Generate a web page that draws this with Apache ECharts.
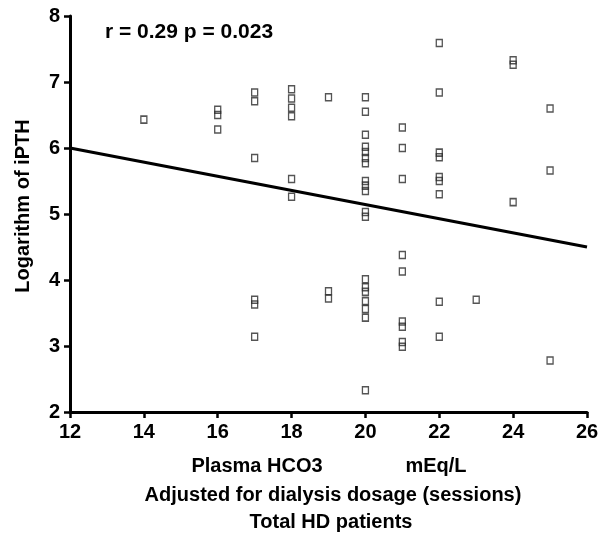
<!DOCTYPE html>
<html>
<head>
<meta charset="utf-8">
<script src="https://cdn.jsdelivr.net/npm/echarts@6/dist/echarts.min.js"></script>
<style>html,body{margin:0;padding:0;background:#fff}#c{width:603px;height:537px}</style>
</head>
<body>
<div id="c"></div>
<script>
// Plasma HCO3 (mEq/L) values for each patient
const hco3 = [
  14,
  16,16,16,
  17,17,17,17,17,17,
  18,18,18,18,18,18,
  19,19,19,
  20,20,20,20,20,20,20,20,20,20,20,20,20,20,20,20,20,20,20,
  21,21,21,21,21,21,21,21,21,
  22,22,22,22,22,22,22,22,22,
  23,
  24,24,24,
  25,25,25
];
// Logarithm of iPTH for each patient
const logIPTH = [
  6.43,
  6.58,6.50,6.28,
  6.84,6.71,5.85,3.70,3.63,3.14,
  6.89,6.75,6.61,6.48,5.53,5.26,
  6.77,3.83,3.72,
  6.77,6.55,6.20,6.02,5.94,5.85,5.77,5.50,5.43,5.35,5.03,4.96,4.01,3.89,3.82,3.68,3.56,3.43,2.33,
  6.31,6.00,5.53,4.38,4.13,3.37,3.29,3.06,2.99,
  7.59,6.84,5.93,5.86,5.56,5.50,5.30,3.67,3.14,
  3.70,
  7.33,7.26,5.18,
  6.60,5.66,2.78
];
// Regression line end points
const fitX = [12, 26];
const fitY = [6.0, 4.5];
// Axis ticks
const xTicks = [12,14,16,18,20,22,24,26];
const yTicks = [2,3,4,5,6,7,8];
const statsText = 'r = 0.29 p = 0.023';
const yTitle = 'Logarithm of iPTH';
const xTitle1a = 'Plasma HCO3';
const xTitle1b = 'mEq/L';
const xTitle2 = 'Adjusted for dialysis dosage (sessions)';
const xTitle3 = 'Total HD patients';

const FONT = 'Liberation Sans, Arial, sans-serif';
const chart = echarts.init(document.getElementById('c'), null, {renderer:'canvas'});
const pts = hco3.map((x,i)=>[x, logIPTH[i]]);
const fit = fitX.map((x,i)=>[x, fitY[i]]);
const axisCommon = {
  axisLine:{show:true, onZero:false, lineStyle:{color:'#000', width:3}},
  axisTick:{show:true, inside:false, length:6, lineStyle:{color:'#000', width:2.5}},
  splitLine:{show:false},
  axisLabel:{color:'#000', fontFamily:FONT, fontWeight:'bold', fontSize:20, margin:10}
};
chart.setOption({
  animation:false,
  backgroundColor:'#fff',
  grid:{left:70, right:16, top:16, bottom:125, containLabel:false},
  xAxis:Object.assign({type:'value', min:xTicks[0], max:xTicks[xTicks.length-1], interval:2}, axisCommon),
  yAxis:Object.assign({type:'value', min:yTicks[0], max:yTicks[yTicks.length-1], interval:1}, axisCommon),
  series:[
    {type:'line', data:fit, symbol:'none', lineStyle:{color:'#000', width:3.3}, z:3},
    {type:'scatter', data:pts, symbol:'rect', symbolSize:[6,7],
     itemStyle:{color:'rgba(255,255,255,0)', borderColor:'#2a2a2a', borderWidth:1.4}, z:4}
  ],
  graphic:[
    {type:'text', left:105, top:22, style:{text:statsText, font:'bold 21px '+FONT, fill:'#000'}},
    {type:'text', x:23, y:206, rotation:Math.PI/2, style:{text:yTitle, font:'bold 20px '+FONT, fill:'#000', align:'center', verticalAlign:'middle'}},
    {type:'text', x:257, y:466, style:{text:xTitle1a, font:'bold 20px '+FONT, fill:'#000', align:'center', verticalAlign:'middle'}},
    {type:'text', x:436, y:466, style:{text:xTitle1b, font:'bold 20px '+FONT, fill:'#000', align:'center', verticalAlign:'middle'}},
    {type:'text', x:333, y:495, style:{text:xTitle2, font:'bold 20px '+FONT, fill:'#000', align:'center', verticalAlign:'middle'}},
    {type:'text', x:331, y:522, style:{text:xTitle3, font:'bold 20px '+FONT, fill:'#000', align:'center', verticalAlign:'middle'}}
  ]
});
</script>
</body>
</html>
